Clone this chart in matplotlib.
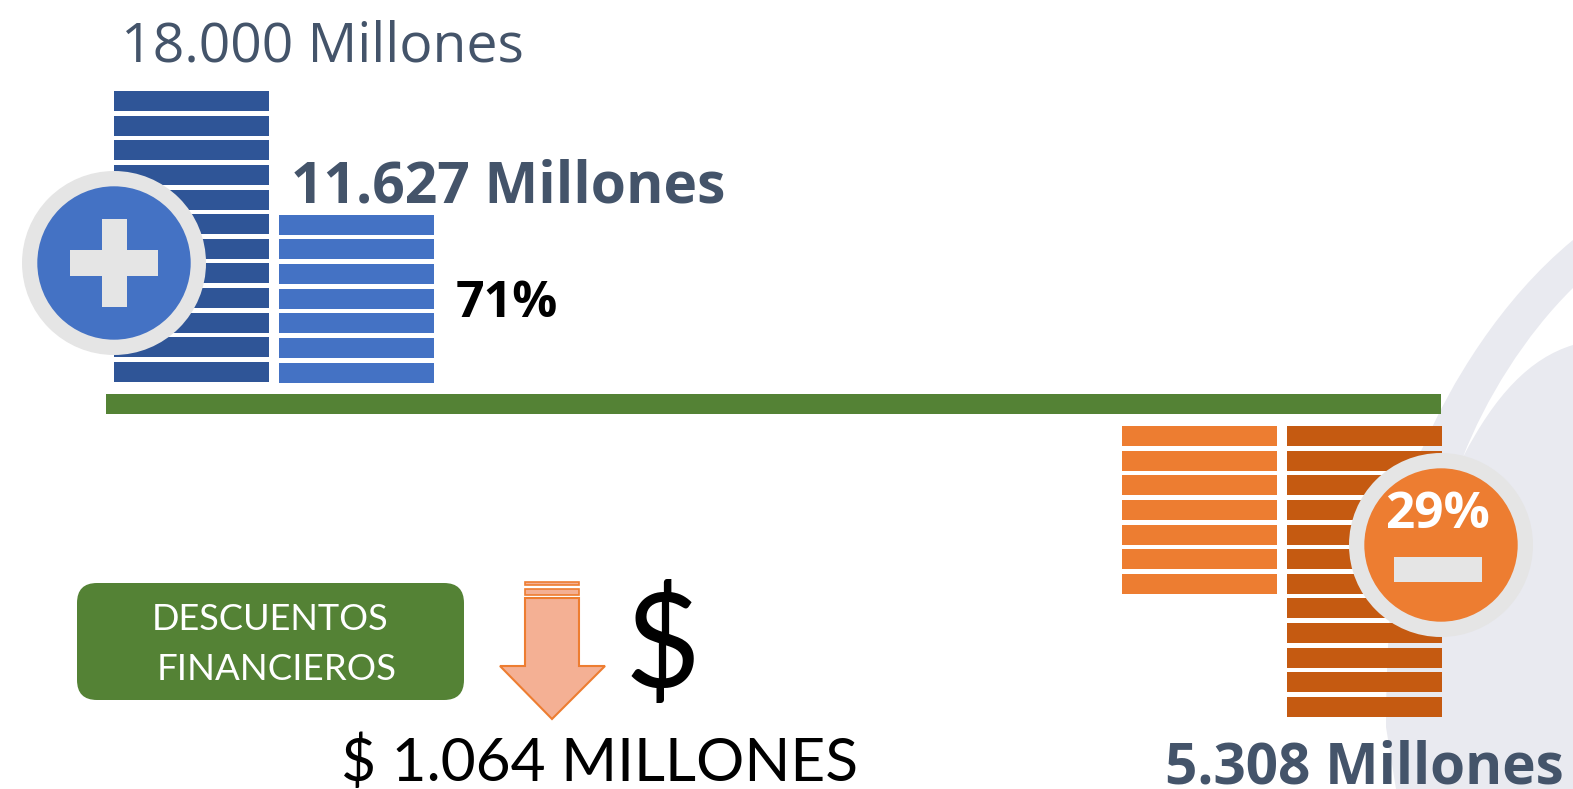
import matplotlib
matplotlib.use('Agg')
import matplotlib.pyplot as plt
from matplotlib.patches import Circle, FancyBboxPatch, Polygon, PathPatch
from matplotlib.path import Path

# one slab per row of each stack
stack_labels = ['18.000 Millones', '11.627 Millones', '5.308 Millones']
stack_upper_dark = 12
stack_upper_light = 7
stack_lower_light = 7
stack_lower_dark = 12
pct_pos = '71%'
pct_neg = '29%'
box_lines = ['DESCUENTOS', 'FINANCIEROS']
discount_label = '$ 1.064 MILLONES'

W, H = 1573, 789
SLATE = '#44546A'
GREEN = '#548235'


def draw_stack(ax, left, first_top, rows, color, pitch=24.63, w=155, h=20):
    for i in range(rows):
        ax.bar(left, h, width=w, bottom=first_top + i * pitch, align='edge',
               color=color, linewidth=0, zorder=2)


def badge(ax, cx, cy, color):
    ax.add_patch(Circle((cx, cy), 92, color='#E5E5E5', lw=0, zorder=4))
    ax.add_patch(Circle((cx, cy), 76.7, color=color, lw=0, zorder=5))


def swoosh(ax):
    # pale background shape at the lower right corner
    verts = [(1396, 789), (1386, 727),
             (1386, 600), (1400, 490), (1423, 447),
             (1450, 385), (1500, 300), (1573, 240),
             (1573, 789), (1396, 789)]
    codes = [Path.MOVETO, Path.LINETO,
             Path.CURVE4, Path.CURVE4, Path.CURVE4,
             Path.CURVE4, Path.CURVE4, Path.CURVE4,
             Path.LINETO, Path.CLOSEPOLY]
    ax.add_patch(PathPatch(Path(verts, codes), fc='#E9EAF0', ec='none', zorder=1))
    gap = [(1463, 457),
           (1485, 400), (1525, 335), (1573, 288),
           (1573, 345),
           (1530, 358), (1495, 395), (1463, 457)]
    gap_codes = [Path.MOVETO,
                 Path.CURVE4, Path.CURVE4, Path.CURVE4,
                 Path.LINETO,
                 Path.CURVE4, Path.CURVE4, Path.CURVE4]
    ax.add_patch(PathPatch(Path(gap, gap_codes), fc='white', ec='none', zorder=1))


def main():
    fig = plt.figure(figsize=(W / 100, H / 100), dpi=100)
    ax = fig.add_axes([0, 0, 1, 1])
    ax.set_xlim(0, W)
    ax.set_ylim(H, 0)
    ax.axis('off')

    swoosh(ax)

    draw_stack(ax, 114, 91, stack_upper_dark, '#2F5597')
    draw_stack(ax, 279, 214.8, stack_upper_light, '#4472C4')
    draw_stack(ax, 1122, 426, stack_lower_light, '#ED7D31')
    draw_stack(ax, 1287, 426, stack_lower_dark, '#C55A11')

    # divider
    ax.bar(106, 20, width=1335, bottom=394, align='edge', color=GREEN, linewidth=0, zorder=3)

    # plus badge
    badge(ax, 114, 263, '#4472C4')
    ax.bar(70, 26, width=88, bottom=250, align='edge', color='#E5E5E5', linewidth=0, zorder=6)
    ax.bar(102, 88, width=25, bottom=219, align='edge', color='#E5E5E5', linewidth=0, zorder=6)

    # minus badge
    badge(ax, 1441, 545, '#ED7D31')
    ax.bar(1394, 25, width=88, bottom=557, align='edge', color='#E5E5E5', linewidth=0, zorder=6)
    ax.text(1438, 515, pct_neg, color='white', fontsize=37, fontweight='bold', family='Open Sans',
            ha='center', va='center', zorder=7)

    ax.text(121, 47, stack_labels[0], color=SLATE, fontsize=39.8, family='Open Sans', ha='left', va='center', zorder=7)
    ax.text(291, 187, stack_labels[1], color=SLATE, fontsize=41, fontweight='bold', family='Open Sans',
            ha='left', va='center', zorder=7)
    ax.text(1165, 769, stack_labels[2], color=SLATE, fontsize=40.8, fontweight='bold', family='Open Sans',
            ha='left', va='center', zorder=7)
    ax.text(456, 304, pct_pos, color='black', fontsize=36, fontweight='bold', family='Open Sans',
            ha='left', va='center', zorder=7)

    # discount box
    ax.add_patch(FancyBboxPatch((97, 603), 347, 77, boxstyle='round,pad=20,rounding_size=20',
                                fc=GREEN, ec='none', zorder=3))
    ax.text(270, 620, box_lines[0], color='white', fontsize=26, family='Lato', ha='center', va='center', zorder=4)
    ax.text(277, 669, box_lines[1], color='white', fontsize=26.4, family='Lato', ha='center', va='center', zorder=4)

    # arrow
    arrow = [(525, 598), (579, 598), (579, 666), (605, 666), (552, 719), (500, 666), (525, 666)]
    ax.add_patch(Polygon(arrow, closed=True, fc='#F4B094', ec='#ED7D31', lw=1.5, zorder=3))
    ax.add_patch(Polygon([(525, 589), (579, 589), (579, 595), (525, 595)], closed=True,
                         fc='#F4B094', ec='#ED7D31', lw=1.2, zorder=3))
    ax.add_patch(Polygon([(525, 582), (579, 582), (579, 585), (525, 585)], closed=True,
                         fc='#F4B094', ec='#ED7D31', lw=1.2, zorder=3))

    ax.text(662, 648, '$', color='black', fontsize=94, family='Lato', ha='center', va='center', zorder=4)
    ax.text(341, 763, discount_label, color='black', fontsize=43.5, family='Lato', ha='left', va='center', zorder=4)

    fig.savefig('out.png', dpi=100)


if __name__ == '__main__':
    main()
